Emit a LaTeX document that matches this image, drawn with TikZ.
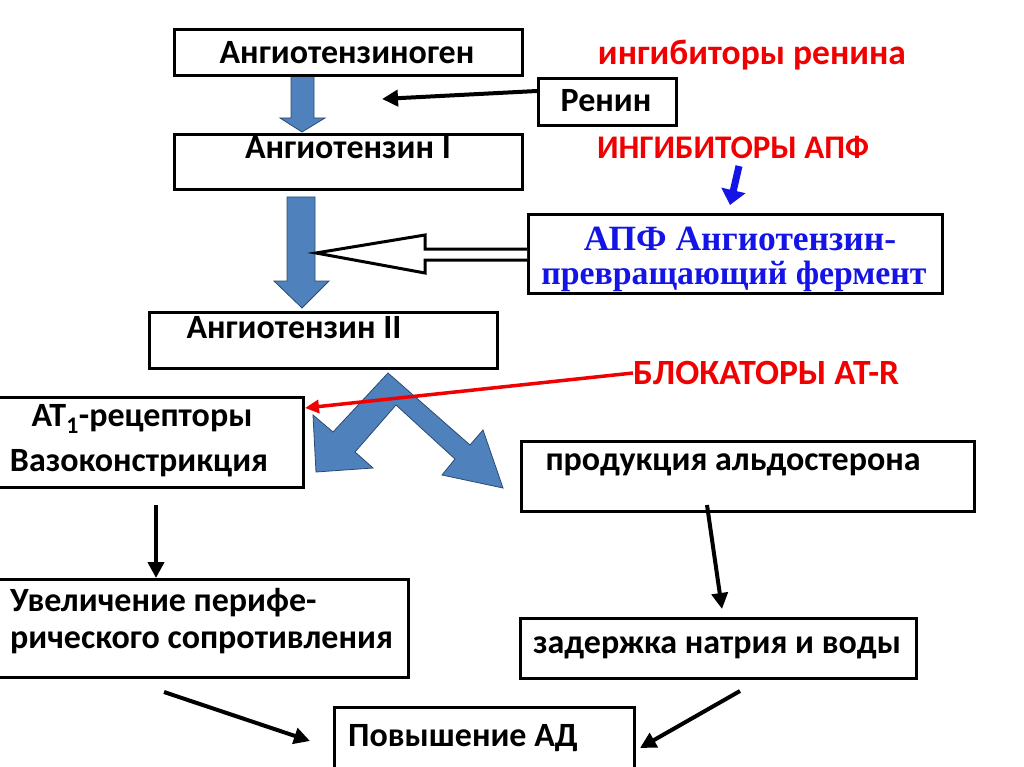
\documentclass[tikz,border=0pt]{standalone}
\usepackage{fontspec}
\setmainfont{Carlito}
\newfontfamily\timesfont{Liberation Serif}
\usetikzlibrary{arrows.meta}
\definecolor{blockblue}{HTML}{4F81BD}
\definecolor{blockedge}{HTML}{2C4A70}
\definecolor{redtxt}{HTML}{F00000}
\definecolor{bluetxt}{HTML}{1414E6}
\tikzset{
  box/.style={draw=black, line width=3pt, fill=white, inner sep=0pt},
  lbl/.style={font=\fontsize{34}{38}\selectfont\bfseries, inner sep=0pt},
  redlbl/.style={font=\fontsize{#1}{38}\selectfont\bfseries, inner sep=0pt, text=redtxt},
  bluelbl/.style={font=\timesfont\fontsize{#1}{40}\selectfont\bfseries, text=bluetxt, inner sep=0pt},
  blockarrow/.style={fill=blockblue, draw=blockedge, line width=0.8pt, line join=miter},
  blackarrow/.style={line width=4pt, -{Triangle[length=16pt,width=16pt]}},
  redarrow/.style={draw=redtxt, line width=3.5pt, -{Triangle[length=14pt,width=13pt]}},
  bluearrow/.style={draw=bluetxt, line width=7pt, -{Triangle[length=15pt,width=24pt]}},
}
\begin{document}
\begin{tikzpicture}[x=1pt, y=-1pt]
\path[use as bounding box] (0,0) rectangle (1024,767);
\clip (0,0) rectangle (1024,767);
\fill[white] (0,0) rectangle (1024,767);

% blue block arrows
\draw[blockarrow] (291,74) -- (314,74) -- (314,118) -- (325,118) -- (302,132) -- (280,118) -- (291,118) -- cycle;
\draw[blockarrow] (287,197) -- (315,197) -- (315,281) -- (329,281) -- (302,308) -- (274,281) -- (287,281) -- cycle;
\draw[blockarrow] (388,373) -- (470,445) -- (483,430) -- (503,488) -- (442,475) -- (455,459) -- (396,405)
  -- (355,452) -- (373,468) -- (316,472) -- (313,415) -- (333,432) -- cycle;

% boxes
\node[box, minimum width=348pt, minimum height=46pt, anchor=north west] (ag) at (173,28) {};
\node[lbl] at (347,53) {Ангиотензиноген};
\node[box, minimum width=138pt, minimum height=47pt, anchor=north west] (ren) at (537,77) {};
\node[lbl] at (606,101) {Ренин};
\node[box, minimum width=348pt, minimum height=55pt, anchor=north west] (a1) at (173,133) {};
\node[lbl] at (348,148) {Ангиотензин I};
\node[box, minimum width=414pt, minimum height=79pt, anchor=north west] (apf) at (527,213) {};
\node[bluelbl=35.5] at (740,239) {АПФ Ангиотензин-};
\node[bluelbl=33.8] at (734,276) {превращающий фермент};
\node[box, minimum width=348pt, minimum height=56pt, anchor=north west] (a2) at (148,311) {};
\node[lbl] at (294,328) {Ангиотензин II};
\node[box, minimum width=305pt, minimum height=90pt, anchor=north west] (at1) at (-3,396) {};
\node[lbl] at (142,419) {AT\textsubscript{1}-рецепторы};
\node[lbl] at (139,463) {Вазоконстрикция};
\node[box, minimum width=453pt, minimum height=70pt, anchor=north west] (ald) at (520,440) {};
\node[lbl] at (733,465) {продукция альдостерона};
\node[box, minimum width=410pt, minimum height=98pt, anchor=north west] (inc) at (-3,578) {};
\node[lbl, anchor=west] at (10,603) {Увеличение перифе-};
\node[lbl, anchor=west] at (10,643) {рического сопротивления};
\node[box, minimum width=396pt, minimum height=60pt, anchor=north west] (nat) at (519,617) {};
\node[lbl] at (717,648) {задержка натрия и воды};
\node[box, minimum width=300pt, minimum height=90pt, anchor=north west] (ad) at (333,706) {};
\node[lbl, anchor=west] at (348,738) {Повышение АД};

% red labels
\node[redlbl=35.5] (inhren) at (752,55) {ингибиторы ренина};
\node[redlbl=33] (inhapf) at (733,147) {ИНГИБИТОРЫ АПФ};
\node[redlbl=35.5, anchor=west] (blk) at (633,373) {БЛОКАТОРЫ AT-R};

% open white arrow from APF to arrow
\draw[line width=3pt, fill=white, line join=miter] (apf.west |- 0,249) -- (425,249) -- (425,235) -- (316,253) -- (425,273) -- (425,260) -- (apf.west |- 0,260);

% connectors
\coordinate (rentip) at (382,99);
\draw[blackarrow] (ren.west |- 0,91) -- (rentip);
\coordinate (apfstart) at (739,166);
\coordinate (apfend) at (730,205);
\draw[bluearrow] (apfstart) -- (apfend);
\draw[redarrow] (blk.west) -- (at1.east |- 0,408);
\coordinate (at1out) at (156,505);
\draw[blackarrow] (at1out) -- (inc.north -| at1out);
\coordinate (aldout) at (707,505);
\coordinate (natin) at (722,609);
\draw[blackarrow] (aldout) -- (natin);
\coordinate (s1) at (164,692);
\coordinate (e1) at (310,741);
\draw[blackarrow] (s1) -- (e1);
\coordinate (s2) at (740,691);
\coordinate (e2) at (640,748);
\draw[blackarrow] (s2) -- (e2);
\end{tikzpicture}
\end{document}
